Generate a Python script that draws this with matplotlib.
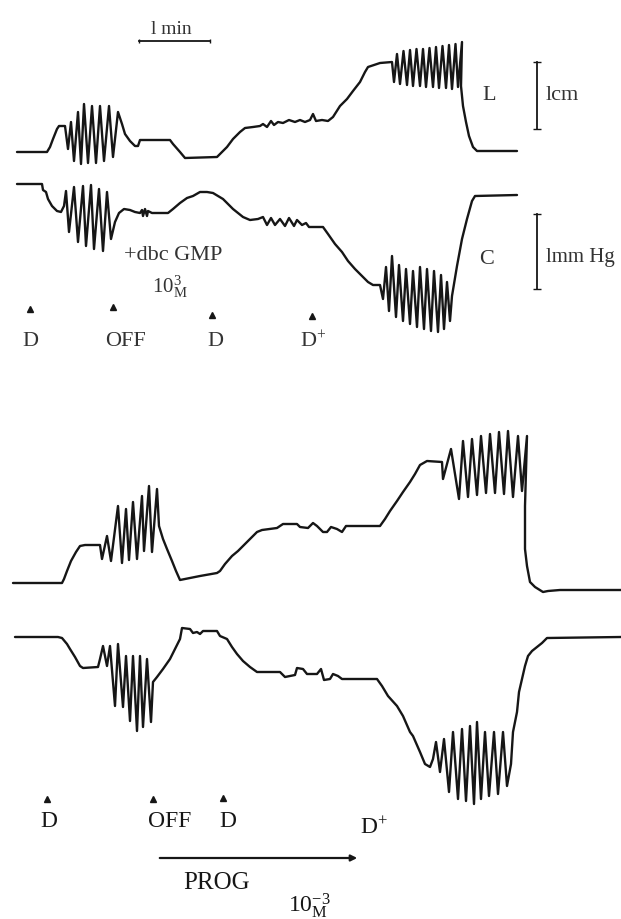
import matplotlib.pyplot as plt
import numpy as np

plt.rcParams["font.family"] = ["Liberation Serif", "DejaVu Serif"]
plt.rcParams["mathtext.fontset"] = "custom"
plt.rcParams["mathtext.rm"] = "Liberation Serif"
plt.rcParams["mathtext.it"] = "Liberation Serif:italic"

upper_L_x = [17, 47, 50, 53, 57, 59, 65, 68, 71, 74, 78, 81, 84, 88, 92, 96, 100, 104, 109, 113,
             118, 122, 125, 130, 135, 138, 140, 170, 173, 180, 185, 217, 222, 227, 233, 240, 245,
             253, 260, 263, 267, 271, 274, 278, 283, 289, 295, 300, 305, 310, 313, 316, 322, 328,
             333, 340, 347, 353, 360, 365, 368, 380, 392,
             394, 397, 400, 403.5, 407, 410, 413, 416.5, 420, 423, 426, 429.5, 433, 436, 439,
             442.5, 446, 449, 452, 455.5, 458, 462,
             461, 463, 466, 469, 473, 477, 517]
upper_L_y = [153, 153, 148, 140, 130, 127, 127, 150, 123, 162, 113, 165, 105, 164, 107, 164, 107, 162, 107, 158,
             113, 125, 135, 142, 147, 147, 141, 141, 145, 153, 159, 158, 153, 148, 140, 133, 129,
             128, 127, 125, 128, 122, 126, 123, 124, 121, 123, 121, 123, 121, 115, 122, 121, 122,
             118, 107, 100, 92, 83, 73, 68, 64, 63,
             83, 55, 85, 52, 86, 51, 87, 50, 87, 50, 88, 49, 88, 48, 89,
             47, 89, 46, 90, 45, 88, 43,
             87, 107, 123, 137, 148, 152, 152]

upper_C_x = [17, 42, 43, 46, 48, 52, 57, 61, 64,
             66, 69, 74, 78, 83, 86, 91, 94, 99, 103, 107, 111,
             115, 119, 124, 130, 135, 140, 142, 143, 145, 147, 148, 152, 168, 173, 180, 187, 193,
             200, 207, 213, 218, 223, 228, 233, 238, 243, 250, 258, 263, 267, 271, 275, 280, 285,
             289, 294, 297, 302, 306, 309, 323, 328, 335, 342, 348, 355, 362, 368, 373, 380,
             383, 386, 389, 392, 396, 399, 403, 406, 410, 413, 417, 420, 424, 427, 431, 434, 438,
             441, 444, 447, 450,
             452, 457, 462, 467, 472, 475, 517]
upper_C_y = [185, 185, 191, 193, 200, 207, 212, 213, 207,
             192, 233, 188, 243, 187, 247, 186, 250, 190, 252, 193, 240,
             223, 214, 210, 211, 213, 214, 211, 217, 210, 217, 212, 214, 214, 210, 204, 199, 197,
             193, 193, 194, 197, 200, 205, 210, 214, 218, 221, 220, 218, 226, 219, 226, 220, 227,
             219, 227, 221, 226, 224, 228, 228, 235, 245, 253, 262, 270, 277, 283, 286, 286,
             300, 268, 312, 257, 318, 266, 322, 270, 325, 272, 328, 268, 330, 270, 332, 272, 333,
             276, 330, 283, 322,
             297, 267, 240, 220, 202, 197, 196]

lower_L_x = [13, 62, 64, 67, 71, 76, 80, 85, 100,
             102, 107, 111, 118, 122, 126, 129, 133, 137, 142, 144, 149, 152, 157,
             159, 163, 167, 172, 176, 180, 190, 200, 217, 220, 225, 232, 238, 245, 250, 257, 262,
             277, 283, 297, 300, 308, 313, 317, 323, 327, 331, 337, 342, 346, 380, 385, 390, 397,
             403, 410, 415, 420, 427, 442,
             443, 451, 459, 463, 468, 472, 477, 481, 486, 490, 495, 499, 504, 508, 513, 518, 522, 527,
             525, 525, 527, 530, 535, 543, 548, 560, 621]
lower_L_y = [584, 584, 580, 572, 562, 553, 547, 546, 546,
             560, 537, 562, 507, 564, 510, 561, 503, 560, 497, 552, 487, 553, 490,
             527, 540, 550, 562, 572, 581, 579, 577, 574, 572, 565, 557, 552, 545, 540, 533, 531,
             529, 525, 525, 528, 529, 524, 527, 533, 533, 528, 530, 533, 527, 527, 520, 512, 502,
             493, 483, 475, 466, 462, 463,
             480, 450, 500, 442, 498, 440, 496, 437, 494, 435, 494, 433, 495, 432, 498, 437, 492, 437,
             507, 550, 567, 583, 588, 593, 592, 591, 591]

lower_C_x = [15, 58, 62, 67, 70, 75, 80, 83, 98, 100,
             103, 107, 110, 115, 118, 123, 126, 130, 133, 137, 140, 143, 147, 151,
             153, 157, 163, 170, 175, 180, 182, 190, 193, 197, 200, 203, 207, 217, 220, 227, 232,
             237, 243, 250, 257, 280, 285, 295, 297, 303, 307, 317, 321, 324, 330, 333, 338, 342,
             377, 382, 388, 397, 403, 410, 413, 420, 425, 430, 433,
             436, 440, 444, 449, 453, 458, 462, 466, 470, 474, 477, 481, 485, 489, 494, 498, 503, 507,
             511, 513, 517, 519, 522, 525, 528, 532, 537, 542, 547, 621]
lower_C_y = [638, 638, 639, 645, 650, 658, 667, 669, 668, 660,
             647, 667, 647, 707, 645, 708, 657, 722, 657, 732, 657, 728, 660, 723,
             683, 678, 670, 660, 650, 640, 629, 630, 634, 633, 635, 632, 632, 632, 637, 640, 648,
             655, 662, 668, 673, 673, 678, 676, 669, 670, 675, 675, 670, 681, 680, 675, 677, 680,
             680, 687, 697, 707, 717, 733, 737, 753, 765, 768, 760,
             743, 773, 740, 793, 733, 800, 730, 802, 727, 805, 723, 800, 733, 797, 733, 795, 733, 787,
             765, 733, 713, 693, 680, 667, 657, 652, 648, 644, 639, 638]

# event marks
upper_events_x = [30, 113, 212, 312]
upper_events_y = [310, 308, 316, 317]
upper_events = ["D", "OFF", "D", "D$^{+}$"]
upper_label_x = [30, 125, 215, 313]
lower_events_x = [47, 153, 223]
lower_events_y = [800, 800, 799]
lower_events = ["D", "OFF", "D"]
lower_label_x = [49, 170, 228]

ink = "#161616"
fig, ax = plt.subplots(figsize=(6.21, 9.20), dpi=100)
fig.subplots_adjust(left=0, right=1, bottom=0, top=1)
ax.set_xlim(0, 621)
ax.set_ylim(920, 0)
ax.axis("off")

for xs, ys in [(upper_L_x, upper_L_y), (upper_C_x, upper_C_y),
               (lower_L_x, lower_L_y), (lower_C_x, lower_C_y)]:
    ax.plot(xs, ys, color=ink, lw=1.7, solid_joinstyle="round", solid_capstyle="round")

# event markers and labels
ax.plot(upper_events_x, upper_events_y, "^", color=ink, ms=4)
for lx, t in zip(upper_label_x, upper_events):
    ax.text(lx, 342, t, ha="center", va="center", fontsize=16, color="#333333")
ax.plot(lower_events_x, lower_events_y, "^", color=ink, ms=4)
for lx, t in zip(lower_label_x, lower_events):
    ax.text(lx, 822, t, ha="center", va="center", fontsize=17, color=ink)
ax.text(360, 828, "D$^{+}$", ha="left", va="center", fontsize=17, color=ink)

# annotations
ax.text(173, 255, "+dbc GMP", ha="center", va="center", fontsize=16, color="#333333")
ax.text(170, 287, "10$^{3}_{\\mathrm{M}}$", ha="center", va="center", fontsize=15, color="#333333")

# time bar
ax.plot([139, 210], [42, 42], color=ink, lw=1.3)
ax.plot([139, 210], [42, 42], "|", color=ink, ms=3)
ax.text(171, 29, "l min", ha="center", va="center", fontsize=14, color="#333333")

# calibration bars
ax.plot([537, 537], [63, 130], color=ink, lw=1.3)
ax.plot([537, 537], [63, 130], "_", color=ink, ms=6)
ax.plot([537, 537], [215, 290], color=ink, lw=1.3)
ax.plot([537, 537], [215, 290], "_", color=ink, ms=6)
ax.text(489, 95, "L", ha="center", va="center", fontsize=16, color="#333333")
ax.text(546, 95, "lcm", ha="left", va="center", fontsize=16, color="#333333")
ax.text(487, 260, "C", ha="center", va="center", fontsize=16, color="#333333")
ax.text(546, 258, "lmm Hg", ha="left", va="center", fontsize=15, color="#333333")

# perfusion arrow
ax.annotate("", xy=(360, 859), xytext=(157, 859),
            arrowprops=dict(arrowstyle="-|>", color=ink, lw=1.6, mutation_scale=9))
ax.text(217, 883, "PROG", ha="center", va="center", fontsize=18, color=ink)
ax.text(309, 906, "10$^{-3}_{\\mathrm{M}}$", ha="center", va="center", fontsize=17, color=ink)

plt.savefig("out.png", dpi=100)
